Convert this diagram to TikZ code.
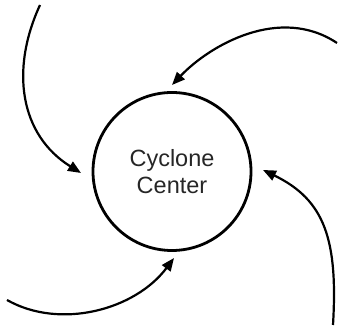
\documentclass[tikz,border=0pt]{standalone}
\usepackage{fontspec}
\setmainfont{Liberation Sans}
\usetikzlibrary{arrows.meta}
\begin{document}
\begin{tikzpicture}[x=1pt,y=-1pt,
  center/.style={circle,draw=black,line width=2.8pt,minimum size=158pt,inner sep=0pt,
    align=center,font=\fontsize{23.5}{26.5}\selectfont,text=black!85},
  flow/.style={line width=2.2pt,-{Triangle[length=13pt,width=10.5pt]}}]
\useasboundingbox (0,0) rectangle (338,328);
\node[center] (c) at (172,171.5) {Cyclone\\Center};
\coordinate (s1) at (40,5);
\coordinate (t1) at (81,173);
\coordinate (s2) at (337,43);
\coordinate (t2) at (172,85);
\coordinate (s3) at (7,300);
\coordinate (t3) at (174,258);
\coordinate (s4) at (333,325);
\coordinate (t4) at (263,170);
\draw[flow] (s1) .. controls (10,70) and (20,135) .. (t1);
\draw[flow] (s2) .. controls (280,5) and (210,45) .. (t2);
\draw[flow] (s3) .. controls (60,330) and (135,310) .. (t3);
\draw[flow] (s4) .. controls (338,240) and (325,200) .. (t4);
\end{tikzpicture}
\end{document}
